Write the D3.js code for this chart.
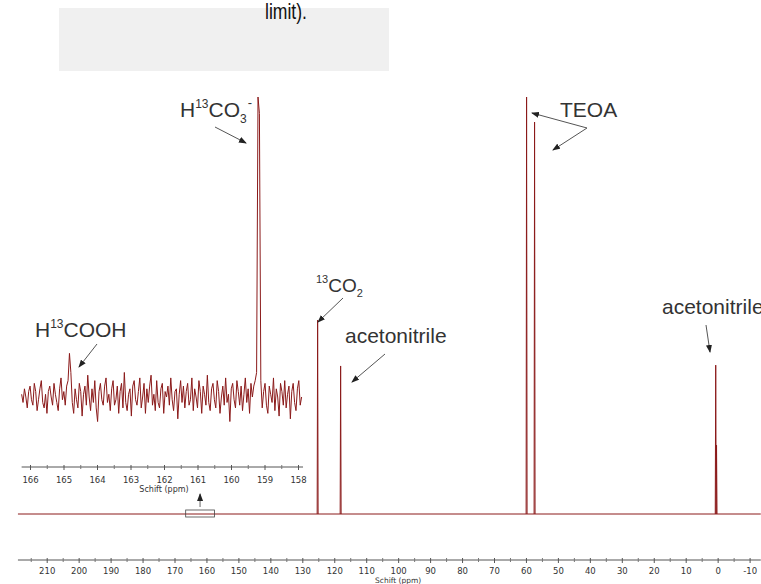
<!DOCTYPE html>
<html>
<head>
<meta charset="utf-8">
<script src="https://cdn.jsdelivr.net/npm/d3@7"></script>
<style>
  body { margin: 0; background: #fff; }
  svg { display: block; }
</style>
</head>
<body>
<svg width="761" height="584"></svg>
<script>
// main spectrum: ticks (ppm)
const mainTicks = [210, 200, 190, 180, 170, 160, 150, 140, 130, 120, 110, 100, 90, 80, 70, 60, 50, 40, 30, 20, 10, 0, -10];
const mainMinorTicks = [215, 205, 195, 185, 175, 165, 155, 145, 135, 125, 115, 105, 95, 85, 75, 65, 55, 45, 35, 25, 15, 5, -5];
// peaks of the main spectrum
const peakPpm = [125.2, 118.0, 59.8, 57.3, 0.6, 0.35];
const peakHeight = [46.5, 35.5, 100, 94, 35.7, 16.5];

// inset (zoom 166 - 158 ppm)
const insetTicks = [166, 165, 164, 163, 162, 161, 160, 159, 158];
const insetMinorTicks = [165.5, 164.5, 163.5, 162.5, 161.5, 160.5, 159.5, 158.5];
const insetStart = 166.25, insetStep = 0.042;
const insetValues = [
  1, -2, 3, 0, -4, 2, 4, -1, -3, 5,
  2, -5, -1, 3, 6, -2, -4, 1, -6, 2,
  4, 0, -3, 5, 1, -2, -5, 3, 7, -1,
  2, -3, 4, 6, 16, 9, -2, -6, 3, -1,
  -4, 5, 2, -7, 1, 4, -3, 8, 0, -5,
  3, -2, 6, -4, -9, 2, 5, -1, -3, 4,
  7, -2, 1, -5, 3, 6, -3, -1, 4, -6,
  2, 5, -4, 9, -2, -5, 1, 3, -7, 4,
  6, -1, -3, 2, 7, -4, 0, 5, -6, 3,
  -2, 4, 8, -3, 1, -5, 6, -2, -4, 3,
  5, -6, 2, 0, 4, -3, 7, -1, -5, 2,
  3, -8, 1, 6, -2, 4, -4, 2, 5, -3,
  -1, 7, -5, 3, 0, -4, 6, 2, -6, 4,
  1, -3, 8, -2, -5, 3, 5, -1, -4, 6,
  2, -6, 0, 4, -3, 7, -2, 1, -9, 3,
  5, -1, -4, 6, 2, -3, 4, -5, 1, 7,
  -2, 3, -6, 5, 0, 4, 6, 9, 110, 104,
  6, -4, 2, 5, -3, -6, 4, 1, -2, 7,
  -5, 3, 0, -7, 5, 2, -3, 6, -4, 1,
  4, -8, 2, 5, -2, -5, 3, 6, -3, 0
];

const svg = d3.select("svg");
const red = "#8b1a1a";
const ink = "#333";
const font = "'Liberation Sans', Arial, sans-serif";
const axisFont = "'DejaVu Sans', Verdana, sans-serif";

// grey box + caption fragment at the top
svg.append("rect").attr("x", 59).attr("y", 8).attr("width", 330).attr("height", 63).attr("fill", "#f0f0f0");
svg.append("text")
  .attr("x", 265).attr("y", 19)
  .attr("textLength", 42).attr("lengthAdjust", "spacingAndGlyphs")
  .style("font-family", "'Liberation Sans Narrow', 'Liberation Sans', sans-serif")
  .style("font-size", "22px").style("fill", "#111")
  .text("limit).");

// scales
const x = d3.scaleLinear().domain([210, -10]).range([46.7, 749.6]);
const y = d3.scaleLinear().domain([0, 100]).range([514, 97]);
const xi = d3.scaleLinear().domain([166, 158]).range([30, 298]);
const yi = d3.scaleLinear().domain([0, 110]).range([397, 97]);

// arrow marker
svg.append("defs").append("marker")
  .attr("id", "ah").attr("markerUnits", "userSpaceOnUse")
  .attr("markerWidth", 8).attr("markerHeight", 6)
  .attr("refX", 7).attr("refY", 3).attr("orient", "auto")
  .append("path").attr("d", "M0,0 L8,3 L0,6 Z").attr("fill", "#222");

// main baseline
svg.append("line")
  .attr("x1", x(219)).attr("x2", x(-13.5))
  .attr("y1", y(0)).attr("y2", y(0))
  .attr("stroke", red).attr("stroke-width", 1);

// main peaks
const line = d3.line().x(d => x(d[0])).y(d => y(d[1]));
peakPpm.forEach((p, i) => {
  const hw = 0.15;
  svg.append("path")
    .attr("d", line([[p + hw, 0], [p, peakHeight[i]], [p - hw, 0]]))
    .attr("fill", "none").attr("stroke", red).attr("stroke-width", 1);
});

// main axis
const axisY = 560;
const mainAxis = svg.append("g").attr("transform", `translate(0,${axisY})`);
mainAxis.append("line").attr("x1", x(219)).attr("x2", x(-13.5)).attr("stroke", "#555");
mainAxis.append("g")
  .call(d3.axisBottom(x).tickValues(mainTicks).tickSize(3).tickPadding(5).tickFormat(d => String(d)))
  .call(g => g.select(".domain").remove())
  .call(g => g.selectAll("line").attr("y1", -2).attr("stroke", "#555"))
  .selectAll("text")
  .style("font-family", axisFont).style("font-size", "8.5px").style("fill", ink);
mainAxis.append("g")
  .call(d3.axisBottom(x).tickValues(mainMinorTicks).tickSize(2).tickFormat(""))
  .call(g => g.select(".domain").remove())
  .call(g => g.selectAll("line").attr("y1", -2).attr("stroke", "#777"));
svg.append("text")
  .attr("x", x(100)).attr("y", 583).attr("text-anchor", "middle")
  .style("font-family", axisFont).style("font-size", "7.5px").style("fill", ink)
  .text("Schift (ppm)");

// inset spectrum
const insetLine = d3.line()
  .x((d, i) => xi(insetStart - i * insetStep))
  .y(d => yi(d));
svg.append("path")
  .attr("d", insetLine(insetValues))
  .attr("fill", "none").attr("stroke", red).attr("stroke-width", 1)
  .attr("stroke-linejoin", "round");

// inset axis
const insetAxisY = 467;
const insetAxis = svg.append("g").attr("transform", `translate(0,${insetAxisY})`);
insetAxis.append("line").attr("x1", xi(166.25)).attr("x2", xi(157.85)).attr("stroke", "#555");
insetAxis.append("g")
  .call(d3.axisBottom(xi).tickValues(insetTicks).tickSize(3).tickPadding(7).tickFormat(d => String(d)))
  .call(g => g.select(".domain").remove())
  .call(g => g.selectAll("line").attr("y1", -2).attr("stroke", "#555"))
  .selectAll("text")
  .style("font-family", axisFont).style("font-size", "8.5px").style("fill", ink);
insetAxis.append("g")
  .call(d3.axisBottom(xi).tickValues(insetMinorTicks).tickSize(2).tickFormat(""))
  .call(g => g.select(".domain").remove())
  .call(g => g.selectAll("line").attr("y1", -2).attr("stroke", "#777"));
svg.append("text")
  .attr("x", xi(162)).attr("y", 492).attr("text-anchor", "middle")
  .style("font-family", axisFont).style("font-size", "8px").style("fill", ink)
  .text("Schift (ppm)");

// zoom region marker on the main baseline + pointer to inset
svg.append("rect")
  .attr("x", x(166.5)).attr("y", y(0) - 4)
  .attr("width", x(157.5) - x(166.5)).attr("height", 7)
  .attr("fill", "none").attr("stroke", "#444").attr("stroke-width", 0.8);
svg.append("line")
  .attr("x1", x(162)).attr("x2", x(162)).attr("y1", 507).attr("y2", 494)
  .attr("stroke", "#666").attr("marker-end", "url(#ah)");

// annotations
const arrows = [
  [215, 127, 246, 143],
  [343, 298, 318, 322],
  [385, 354, 352, 382],
  [587, 128, 532, 113],
  [587, 128, 553, 150],
  [706, 325, 710, 352],
  [97, 344, 79, 367]
];
arrows.forEach(a => {
  svg.append("line")
    .attr("x1", a[0]).attr("y1", a[1]).attr("x2", a[2]).attr("y2", a[3])
    .attr("stroke", "#555").attr("stroke-width", 1)
    .attr("marker-end", "url(#ah)");
});

function label(xp, yp, size, parts) {
  const t = svg.append("text").attr("x", xp).attr("y", yp)
    .style("font-family", font).style("fill", ink).style("font-size", size + "px");
  parts.forEach(p => {
    const s = t.append("tspan").text(p.t);
    if (p.size) s.style("font-size", p.size + "px");
    if (p.dy) s.attr("dy", p.dy);
    if (p.dx) s.attr("dx", p.dx);
  });
  return t;
}

label(180, 117, 21, [{ t: "H" }, { t: "13", size: 12, dy: -9 }, { t: "CO", dy: 9 }, { t: "3", size: 12, dy: 6 }, { t: "-", size: 13, dy: -16, dx: 1 }]);
label(316, 292, 19, [{ t: "13", size: 11, dy: -9 }, { t: "CO", dy: 9 }, { t: "2", size: 11, dy: 5 }]);
label(345, 343, 21, [{ t: "acetonitrile" }]);
label(560, 117, 21, [{ t: "TEOA" }]);
label(662, 314, 21, [{ t: "acetonitrile" }]);
label(35, 337, 21, [{ t: "H" }, { t: "13", size: 12, dy: -9 }, { t: "COOH", dy: 9 }]);
</script>
</body>
</html>
